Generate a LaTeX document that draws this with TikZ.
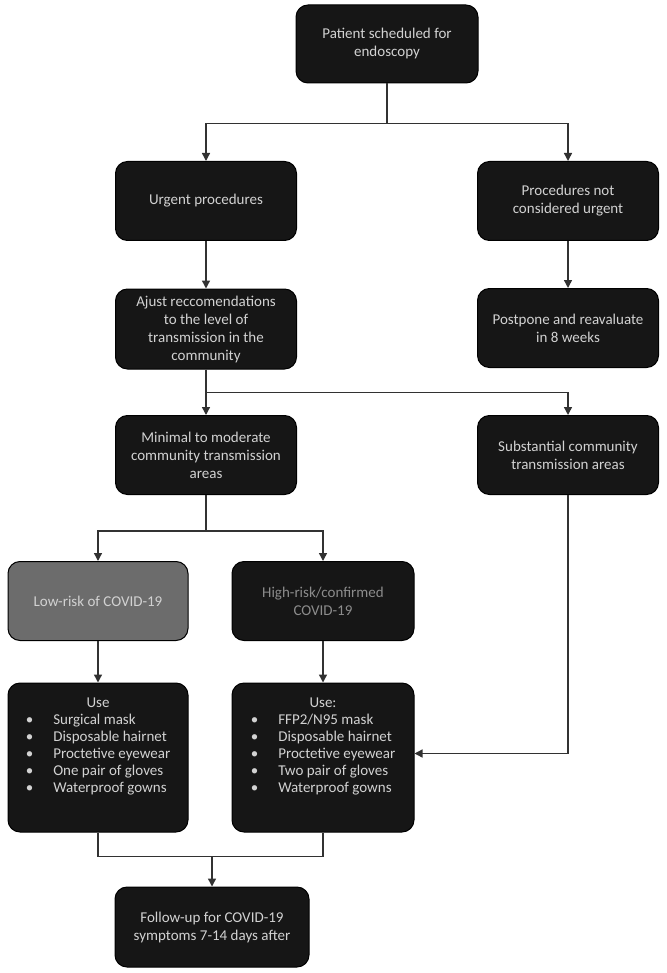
\documentclass[tikz,border=0pt]{standalone}
\usepackage{fontspec}
\setmainfont{Carlito}
\usetikzlibrary{arrows.meta,positioning}
\definecolor{xbox}{RGB}{22,22,22}
\definecolor{xgrey}{RGB}{108,108,108}
\definecolor{xtext}{RGB}{210,210,210}
\definecolor{xdim}{RGB}{140,140,140}
\definecolor{xline}{RGB}{50,50,50}

\begin{document}
\begin{tikzpicture}[x=1pt, y=1pt,
  stepbox/.style={draw=black, fill=xbox, rounded corners=12pt,
                  minimum width=181pt, minimum height=79pt, inner sep=2pt,
                  font=\fontsize{15}{18}\selectfont, text=xtext, align=center, line width=1pt},
  usebox/.style={stepbox, minimum height=149pt, font=\fontsize{15}{17}\selectfont},
  line/.style={draw=xline, line width=1.4pt},
  arr/.style={line, -{Triangle[length=8pt,width=8pt]}}
]
  \useasboundingbox (0,0) rectangle (666,-973);

  \node[stepbox, minimum width=182pt, minimum height=78pt] (pat) at (387,-44) {Patient scheduled for\\endoscopy};
  \node[stepbox] (urg)     at (206,-201) {Urgent procedures};
  \node[stepbox] (nurg)    at (568,-201) {Procedures not\\considered urgent};
  \node[stepbox, minimum height=80pt] (ajust) at (206,-329) {Ajust reccomendations\\to the level of\\transmission in the\\community};
  \node[stepbox] (post)    at (568,-328) {Postpone and reavaluate\\in 8 weeks};
  \node[stepbox] (minimal) at (206,-455) {Minimal to moderate\\community transmission\\areas};
  \node[stepbox] (subst)   at (568,-455) {Substantial community\\transmission areas};
  \node[stepbox, fill=xgrey, minimum width=180pt] (low) at (98,-601) {Low-risk of COVID-19};
  \node[stepbox, minimum width=182pt, text=xdim] (high) at (323,-601) {High-risk/confirmed\\COVID-19};

  \node[usebox, minimum width=180pt] (lowuse) at (98,-757.5) {%
    \begin{tabular}{@{}l@{\hspace{20pt}}l@{}}
      \multicolumn{2}{c}{Use}\\
      \textbullet & Surgical mask\\
      \textbullet & Disposable hairnet\\
      \textbullet & Proctetive eyewear\\
      \textbullet & One pair of gloves\\
      \textbullet & Waterproof gowns\\[22pt]
    \end{tabular}};
  \node[usebox, minimum width=182pt] (highuse) at (323,-757.5) {%
    \begin{tabular}{@{}l@{\hspace{20pt}}l@{}}
      \multicolumn{2}{c}{Use:}\\
      \textbullet & FFP2/N95 mask\\
      \textbullet & Disposable hairnet\\
      \textbullet & Proctetive eyewear\\
      \textbullet & Two pair of gloves\\
      \textbullet & Waterproof gowns\\[22pt]
    \end{tabular}};

  \node[stepbox, minimum width=194pt, minimum height=80pt] (follow) at (212,-927) {Follow-up for COVID-19\\symptoms 7-14 days after};

  % splits
  \draw[arr] (pat.south) -- ++(0,-40) -| (urg.north);
  \draw[arr] (pat.south) -- ++(0,-40) -| (nurg.north);
  \draw[arr] (ajust.south) -- ++(0,-23) -| (subst.north);
  \draw[arr] (minimal.south) -- ++(0,-36) -| (low.north);
  \draw[arr] (minimal.south) -- ++(0,-36) -| (high.north);

  \foreach \from/\to in {urg/ajust, nurg/post, ajust/minimal, low/lowuse, high/highuse}{
    \draw[arr] (\from.south) -- (\to.north);
  }

  \draw[arr] (subst.south) |- ([yshift=4pt]highuse.east);

  % merge into follow-up
  \coordinate[above=30pt of follow.north] (merge);
  \draw[line] (lowuse.south) |- (merge) -| (highuse.south);
  \draw[arr] (merge) -- (follow.north);
\end{tikzpicture}
\end{document}
